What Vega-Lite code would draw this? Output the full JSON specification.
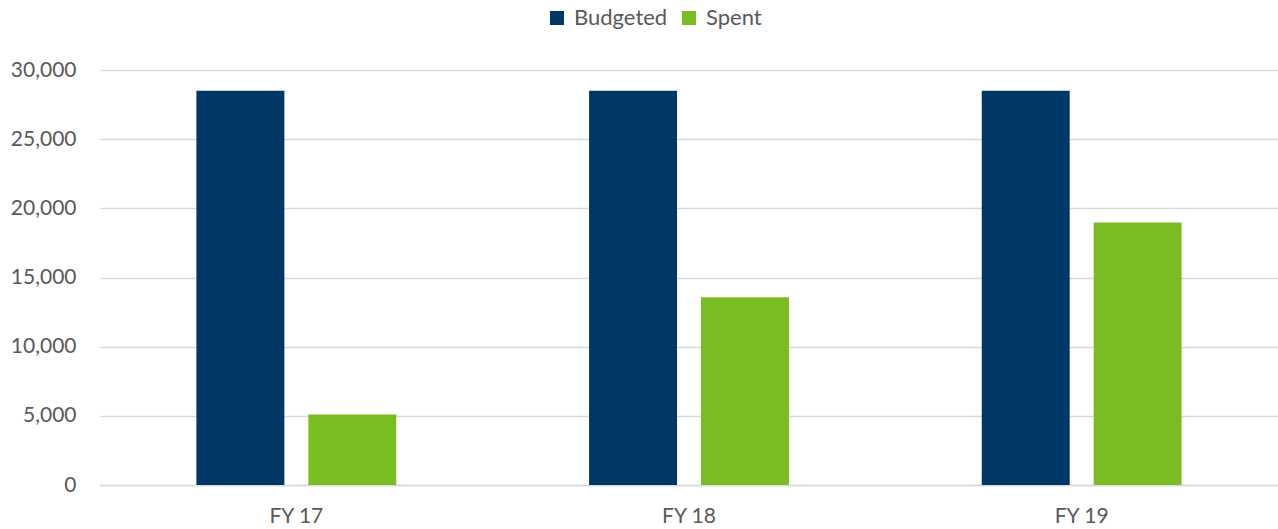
{
  "$schema": "https://vega.github.io/schema/vega-lite/v6.json",
  "width": 1178,
  "height": 415,
  "autosize": {"type": "none"},
  "padding": {"left": 100, "top": 70, "right": 0, "bottom": 44},
  "background": "white",
  "config": {
    "view": {"stroke": null},
    "font": "Lato",
    "axis": {"labelFont": "Lato", "labelColor": "#595959", "labelFontSize": 21},
    "legend": {"labelFont": "Lato", "labelColor": "#595959", "labelFontSize": 22}
  },
  "data": {
    "values": [
      {"year": "FY 17", "series": "Budgeted", "value": 28500},
      {"year": "FY 17", "series": "Spent", "value": 5100},
      {"year": "FY 18", "series": "Budgeted", "value": 28500},
      {"year": "FY 18", "series": "Spent", "value": 13580},
      {"year": "FY 19", "series": "Budgeted", "value": 28500},
      {"year": "FY 19", "series": "Spent", "value": 18980}
    ]
  },
  "mark": {"type": "bar"},
  "encoding": {
    "x": {
      "field": "year",
      "type": "nominal",
      "sort": null,
      "scale": {"paddingInner": 0.491, "paddingOuter": 0.2455},
      "axis": {
        "title": null,
        "labelAngle": 0,
        "ticks": false,
        "domain": true,
        "domainColor": "#d9d9d9",
        "domainWidth": 1.5,
        "labelPadding": 20,
        "grid": false
      }
    },
    "xOffset": {
      "field": "series",
      "type": "nominal",
      "sort": ["Budgeted", "Spent"],
      "scale": {"paddingInner": 0.214, "paddingOuter": 0}
    },
    "y": {
      "field": "value",
      "type": "quantitative",
      "scale": {"domain": [0, 30000], "nice": false},
      "axis": {
        "title": null,
        "values": [0, 5000, 10000, 15000, 20000, 25000, 30000],
        "format": ",d",
        "ticks": false,
        "domain": false,
        "grid": true,
        "gridColor": "#d9d9d9",
        "gridWidth": 1.5,
        "labelPadding": 24
      }
    },
    "color": {
      "field": "series",
      "type": "nominal",
      "sort": ["Budgeted", "Spent"],
      "scale": {"domain": ["Budgeted", "Spent"], "range": ["#003764", "#7abd22"]},
      "legend": {
        "title": null,
        "orient": "none",
        "direction": "horizontal",
        "legendX": 446,
        "legendY": -63,
        "symbolType": "square",
        "symbolSize": 196,
        "symbolStrokeWidth": 0,
        "symbolOpacity": 1,
        "labelOffset": 6,
        "columnSpacing": 20
      }
    }
  }
}
